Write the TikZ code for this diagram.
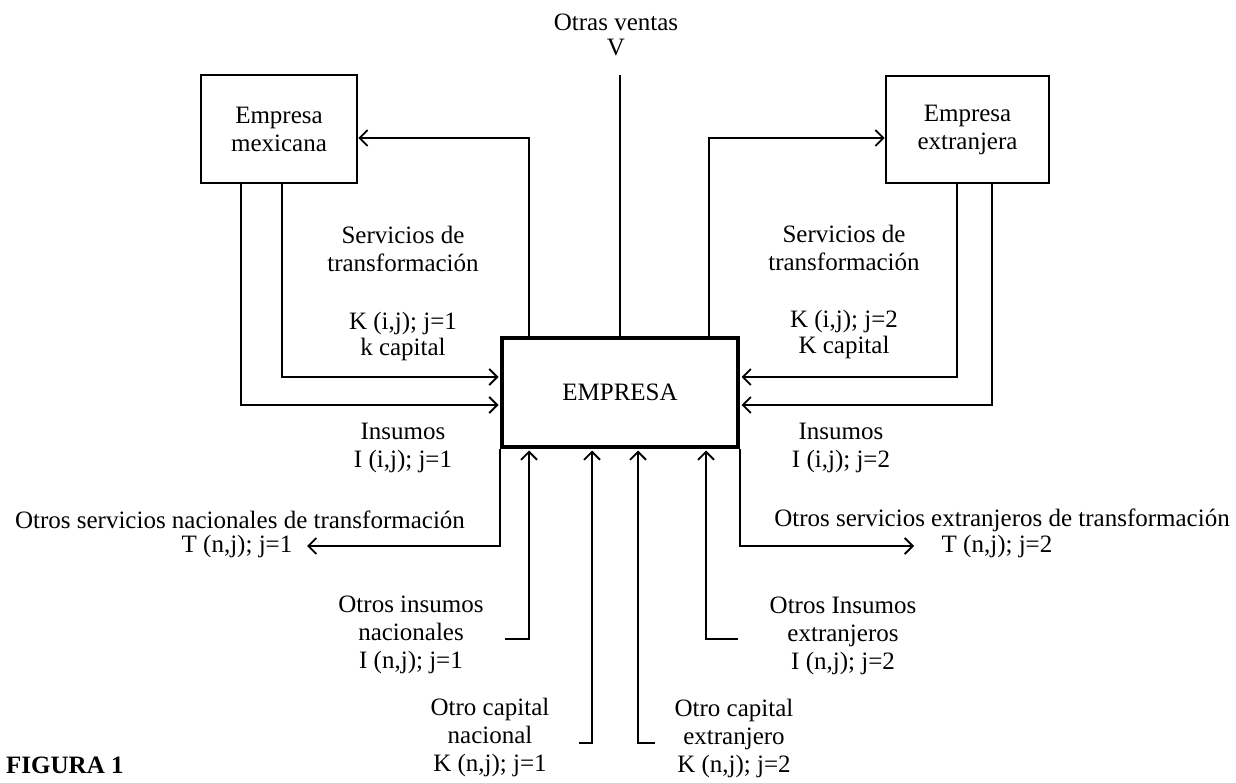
\documentclass[tikz,border=0pt]{standalone}
\usepackage{fontspec}
\setmainfont{Liberation Serif}
\usetikzlibrary{arrows.meta}
\begin{document}
\begin{tikzpicture}[x=1pt,y=-1pt,
  every node/.style={font=\fontsize{25}{28}\selectfont, align=center, inner sep=0pt},
  conn/.style={line width=2.1pt},
  arr/.style={conn, -{Straight Barb[length=8pt,width=16pt,line width=1.8pt]}},
  bigbox/.style={draw, line width=4pt, minimum width=236pt, minimum height=109pt},
  firmbox/.style={draw, line width=2.6pt}]
\path[fill=white] (0,0) rectangle (1236,783);
\useasboundingbox (0,0) rectangle (1236,783);

% boxes
\node[bigbox] (E) at (620,392.5) {EMPRESA};
\node[firmbox, minimum width=156pt, minimum height=108pt] (M) at (279,129) {Empresa\\mexicana};
\node[firmbox, minimum width=163pt, minimum height=107pt] (X) at (967.5,129.5) {Empresa\\extranjera};

% otras ventas
\coordinate (vtop) at (620,75);
\draw[conn] (E.north) -- (vtop);
\node (ov) at (616,35) {Otras ventas\\[-3pt]V};

% upper connectors
\draw[arr] ([xshift=29pt]E.north west) |- ([yshift=-9pt]M.east);
\draw[arr, shorten >=1.5pt] ([xshift=-38pt]M.south) |- ([yshift=-12.5pt]E.west);
\draw[arr, shorten >=1.5pt] ([xshift=3pt]M.south) |- ([yshift=15.5pt]E.west);
\draw[arr] ([xshift=-31pt]E.north east) |- ([yshift=-8.5pt]X.west);
\draw[arr, shorten >=1.5pt] ([xshift=-10.5pt]X.south) |- ([yshift=15.5pt]E.east);
\draw[arr, shorten >=1.5pt] ([xshift=24.5pt]X.south) |- ([yshift=-12.5pt]E.east);

% lower connectors
\coordinate (tl) at (307,546);
\coordinate (tr) at (914,546);
\draw[arr] (E.south west) |- (tl);
\draw[arr] (E.south east) |- (tr);
\coordinate (a1) at (505,639);
\coordinate (a2) at (579,743);
\coordinate (a3) at (655,743);
\coordinate (a4) at (738,639);
\draw[arr, shorten >=1.5pt] (a1) -| ([xshift=29pt]E.south west);
\draw[arr, shorten >=1.5pt] (a2) -| ([xshift=92pt]E.south west);
\draw[arr, shorten >=1.5pt] (a3) -| ([xshift=138pt]E.south west);
\draw[arr, shorten >=1.5pt] (a4) -| ([xshift=206pt]E.south west);

% labels
\node (sv1) at (403,249) {Servicios de\\transformación};
\node (k1) at (403,336.5) {K (i,j); j=1\\[-2pt]k capital};
\node (sv2) at (844,248) {Servicios de\\transformación};
\node (k2) at (844,334) {K (i,j); j=2\\[-2pt]K capital};
\node (ins1) at (403,448) {Insumos\\I (i,j); j=1};
\node (ins2) at (841,448) {Insumos\\I (i,j); j=2};
\node (os1) at (240,520) {Otros servicios nacionales de transformación};
\node (t1) at (237,546) {T (n,j); j=1};
\node (os2) at (1002,520) {Otros servicios extranjeros de transformación};
\node (t2) at (997,546) {T (n,j); j=2};
\node (oin) at (411,635) {Otros insumos\\nacionales\\I (n,j); j=1};
\node (ocn) at (490,737) {Otro capital\\nacional\\K (n,j); j=1};
\node (oie) at (843,636) {Otros Insumos\\extranjeros\\I (n,j); j=2};
\node (oce) at (734,738) {Otro capital\\extranjero\\K (n,j); j=2};
\node[font=\bfseries\fontsize{25}{28}\selectfont, anchor=west] (fig) at (6,765) {FIGURA 1};
\end{tikzpicture}
\end{document}
